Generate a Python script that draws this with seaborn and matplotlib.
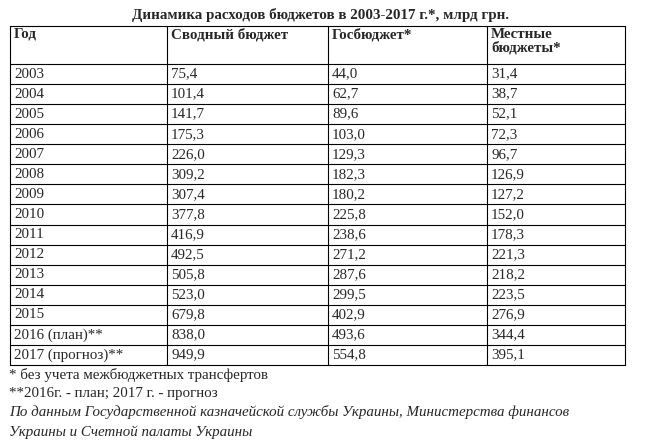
import matplotlib
matplotlib.use('Agg')
import matplotlib.pyplot as plt
import seaborn as sns

sns.set_style('white')
plt.rcParams['font.family'] = ['Liberation Serif', 'DejaVu Serif']

title = 'Динамика расходов бюджетов в 2003-2017 г.*, млрд грн.'
headers = ['Год', 'Сводный бюджет', 'Госбюджет*', 'Местные\nбюджеты*']
years = ['2003', '2004', '2005', '2006', '2007', '2008', '2009', '2010', '2011',
         '2012', '2013', '2014', '2015', '2016 (план)**', '2017 (прогноз)**']
consolidated = ['75,4', '101,4', '141,7', '175,3', '226,0', '309,2', '307,4', '377,8',
                '416,9', '492,5', '505,8', '523,0', '679,8', '838,0', '949,9']
state = ['44,0', '62,7', '89,6', '103,0', '129,3', '182,3', '180,2', '225,8',
         '238,6', '271,2', '287,6', '299,5', '402,9', '493,6', '554,8']
local = ['31,4', '38,7', '52,1', '72,3', '96,7', '126,9', '127,2', '152,0',
         '178,3', '221,3', '218,2', '223,5', '276,9', '344,4', '395,1']
notes = ['* без учета межбюджетных трансфертов',
         '**2016г. - план; 2017 г. - прогноз']
source = ['По данным Государственной казначейской службы Украины, Министерства финансов',
          'Украины и Счетной палаты Украины']

fig = plt.figure(figsize=(6.51, 4.42), dpi=100)
ax = fig.add_axes([0, 0, 1, 1])
ax.set_xlim(0, 651)
ax.set_ylim(442, 0)
ax.axis('off')

col_x = [10, 167, 328, 487, 625]
top, head_bot, row_h = 26, 64, 20.07
n = len(years)
bottom = head_bot + n * row_h
fs = 10.8

ax.text(320, 15, title, ha='center', va='center', fontsize=fs, fontweight='bold')

for x in col_x:
    ax.plot([x, x], [top, bottom], color='black', lw=0.8)
for y in [top, head_bot] + [head_bot + (i + 1) * row_h for i in range(n)]:
    ax.plot([col_x[0], col_x[-1]], [y, y], color='black', lw=0.8)

for j, h in enumerate(headers):
    ax.text(col_x[j] + 4, top + 2, h, ha='left', va='top', fontsize=fs,
            fontweight='bold', linespacing=1.0)

for i in range(n):
    yc = head_bot + (i + 0.5) * row_h
    for j, v in enumerate([years[i], consolidated[i], state[i], local[i]]):
        ax.text(col_x[j] + 4, yc, v, ha='left', va='center', fontsize=fs)

ax.text(9, 375, notes[0], ha='left', va='center', fontsize=fs)
ax.text(9, 393, notes[1], ha='left', va='center', fontsize=fs)
ax.text(9, 412, source[0], ha='left', va='center', fontsize=fs, style='italic')
ax.text(9, 432, source[1], ha='left', va='center', fontsize=fs, style='italic')

fig.savefig('out.png', dpi=100)
